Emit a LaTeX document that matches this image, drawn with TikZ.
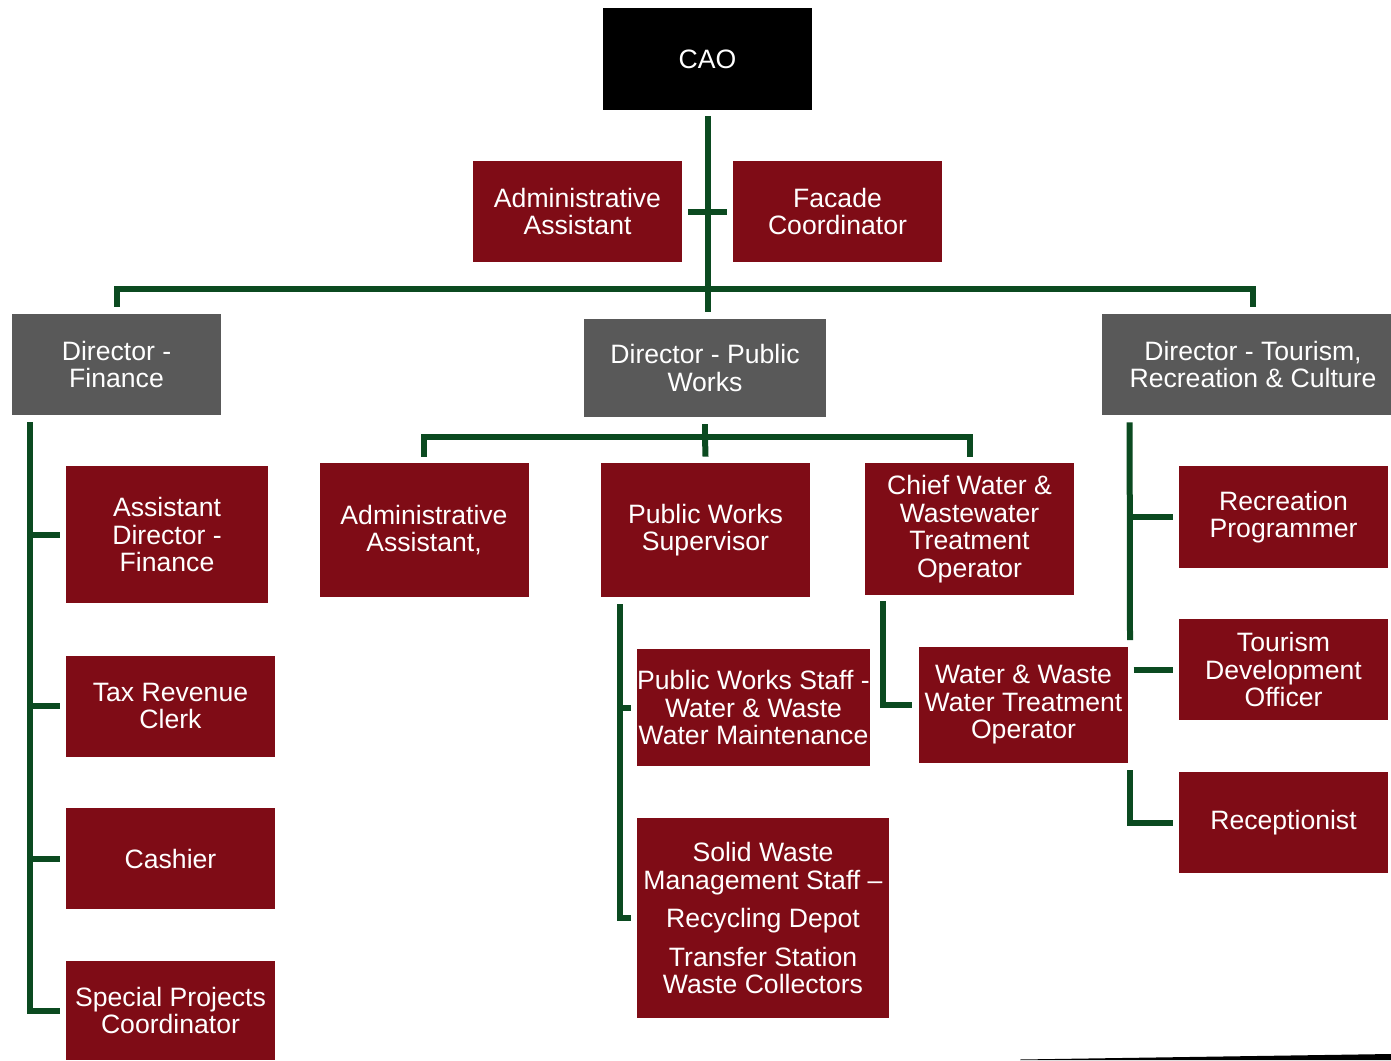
\documentclass[tikz,border=0pt]{standalone}
\usepackage{fontspec}
\setmainfont{Liberation Sans}
\usetikzlibrary{positioning,calc}
\definecolor{boxred}{HTML}{7F0C16}
\definecolor{boxgray}{HTML}{595959}
\definecolor{linegreen}{HTML}{0B4A20}
\begin{document}
\begin{tikzpicture}[x=0.5pt,y=-0.5pt,
                    box/.style={align=center,inner sep=0pt,text=white,
                                font=\fontsize{13.3}{13.75}\selectfont,
                                minimum width=104.5pt,minimum height=50.5pt},
                    red box/.style={box,fill=boxred},
                    dir box/.style={box,fill=boxgray},
                    link/.style={draw=linegreen,line width=3pt}
                   ]
    \useasboundingbox (0,0) rectangle (1391,1060);

    % top level
    \node[box,fill=black,minimum height=51pt] (cao) at (707.5,59) {CAO};
    \node[red box] (adm1) at (577.5,211.5) {Administrative\\Assistant};
    \node[red box] (facade) at (837.5,211.5) {Facade\\Coordinator};

    % directors
    \node[dir box] (dfin) at (116.5,364.5) {Director -\\Finance};
    \node[dir box,minimum width=121pt,minimum height=49pt] (dpw) at (705,368) {Director - Public\\Works};
    \node[dir box,minimum width=151pt] (dtrc) at (1253,364.5) {Director - Tourism,\\Recreation \& Culture};

    % finance
    \node[red box,minimum width=101pt,minimum height=68.5pt] (adf) at (167,534.5) {Assistant\\Director -\\Finance};
    \node[red box] (tax) at (170.5,706) {Tax Revenue\\Clerk};
    \node[red box] (cash) at (170.5,858.5) {Cashier};
    \node[red box,minimum height=49.5pt] (spc) at (170.5,1010.5) {Special Projects\\Coordinator};

    % public works
    \node[red box,minimum height=67pt] (adm2) at (424,530) {Administrative\\Assistant,};
    \node[red box,minimum height=67pt] (pws) at (705.5,530) {Public Works\\Supervisor};
    \node[red box,minimum height=66pt] (chief) at (969.5,529) {Chief Water \&\\Wastewater\\Treatment\\Operator};
    \node[red box,minimum width=116.5pt,minimum height=58.5pt] (pwstaff) at (753.5,707.5) {Public Works Staff -\\Water \& Waste\\Water Maintenance};
    \node[red box,minimum height=58pt] (wwto) at (1023.5,705) {Water \& Waste\\Water Treatment\\Operator};
    \node[red box,minimum width=126pt,minimum height=100pt] (sws) at (763,918) {Solid Waste\\Management Staff –\\[5.5pt]Recycling Depot\\[5.5pt]Transfer Station\\Waste Collectors};

    % tourism, recreation & culture
    \node[red box,minimum height=51pt] (recp) at (1283.5,517) {Recreation\\Programmer};
    \node[red box] (tdo) at (1283.5,669.5) {Tourism\\Development\\Officer};
    \node[red box] (rcpt) at (1283.5,822.5) {Receptionist};

    % connectors
    \coordinate (bus) at (707.5,289);
    \draw[link] ([yshift=-3pt]cao.south) -- ([yshift=3.5pt]cao.south |- dpw.north);
    \draw[link,shorten <=3pt,shorten >=3pt] (adm1) -- (facade);
    \draw[link] ([yshift=3.5pt]dfin.north) |- (bus) -| ([yshift=3.5pt]dtrc.north);

    \coordinate (pwbus) at (705,437);
    \draw[link] ([yshift=-3.5pt]dpw.south) -- (pwbus);
    \draw[link] ([yshift=3pt]adm2.north) |- (pwbus) -| ([yshift=3pt]chief.north);
    \draw[link] (pwbus) -- ([yshift=3pt]pws.north);

    \coordinate (fintop) at ([xshift=9pt,yshift=-3.5pt]dfin.south west);
    \draw[link] (fintop) |- ([xshift=-3pt]spc.west);
    \foreach \n in {adf,tax,cash}
        \draw[link] (fintop |- \n.west) -- ([xshift=-3pt]\n.west);

    \coordinate (pwstop) at ([xshift=9.5pt,yshift=-3.5pt]pws.south west);
    \draw[link] (pwstop) |- ([xshift=-3pt]sws.west);
    \draw[link] (pwstop |- pwstaff.west) -- ([xshift=-3pt]pwstaff.west);

    \draw[link] ([xshift=9pt,yshift=-3pt]chief.south west) |- ([xshift=-3.5pt]wwto.west);

    \coordinate (trtop) at ([xshift=14pt,yshift=-3.5pt]dtrc.south west);
    \coordinate (trend) at (1130,640);
    \coordinate (trlow) at (1130,770);
    \draw[link] (trtop) -- (trend);
    \draw[link] (trtop |- recp.west) -- ([xshift=-3pt]recp.west);
    \draw[link] ([xshift=-22.5pt]tdo.west) -- ([xshift=-3pt]tdo.west);
    \draw[link] (trlow) |- ([xshift=-3pt]rcpt.west);

    \fill[black] (1020,1059.5) -- (1391,1054) -- (1391,1060) -- (1020,1060) -- cycle;
\end{tikzpicture}
\end{document}
